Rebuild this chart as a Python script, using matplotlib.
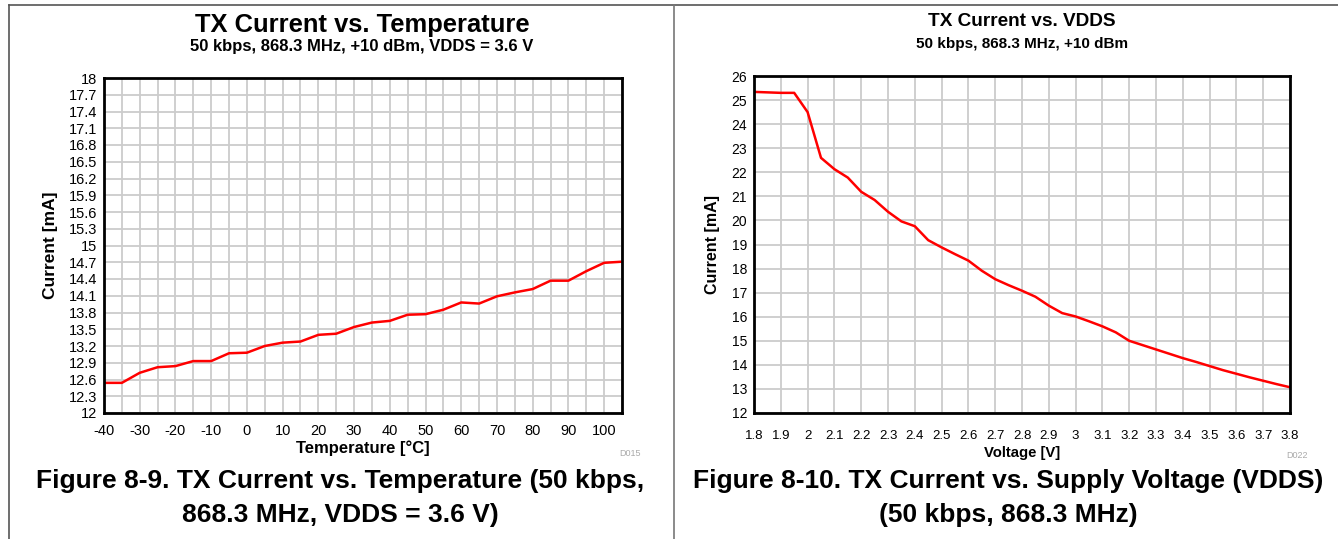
import matplotlib.pyplot as plt
import numpy as np
from matplotlib.lines import Line2D

plt.rcParams['font.family'] = ['Liberation Sans', 'DejaVu Sans']

# left chart: TX current vs temperature
temp_c = [-40, -35, -30, -25, -20, -15, -10, -5, 0, 5, 10, 15, 20, 25, 30, 35,
          40, 45, 50, 55, 60, 65, 70, 75, 80, 85, 90, 95, 100, 105]
current_temp = [12.54, 12.54, 12.72, 12.82, 12.84, 12.93, 12.93, 13.07, 13.08, 13.20,
                13.26, 13.28, 13.40, 13.42, 13.54, 13.62, 13.65, 13.76, 13.77, 13.85,
                13.98, 13.96, 14.09, 14.16, 14.22, 14.37, 14.37, 14.54, 14.69, 14.71]

# right chart: TX current vs VDDS
vdds = [1.8, 1.9, 1.95, 2.0, 2.05, 2.1, 2.15, 2.2, 2.25, 2.3, 2.35, 2.4, 2.45, 2.5,
        2.55, 2.6, 2.65, 2.7, 2.75, 2.8, 2.85, 2.9, 2.95, 3.0, 3.05, 3.1, 3.15, 3.2,
        3.25, 3.3, 3.35, 3.4, 3.45, 3.5, 3.55, 3.6, 3.65, 3.7, 3.75, 3.8]
current_vdds = [25.34, 25.30, 25.30, 24.50, 22.60, 22.13, 21.78, 21.19, 20.85, 20.36,
                19.96, 19.76, 19.18, 18.88, 18.60, 18.33, 17.91, 17.56, 17.31, 17.08,
                16.83, 16.46, 16.15, 16.01, 15.81, 15.60, 15.35, 15.00, 14.82, 14.64,
                14.46, 14.28, 14.12, 13.95, 13.78, 13.63, 13.48, 13.34, 13.20, 13.07]

temp_ticks = list(range(-40, 101, 10))
temp_grid = list(range(-40, 106, 5))
temp_yticks = [12, 12.3, 12.6, 12.9, 13.2, 13.5, 13.8, 14.1, 14.4, 14.7, 15,
               15.3, 15.6, 15.9, 16.2, 16.5, 16.8, 17.1, 17.4, 17.7, 18]
vdds_ticks = [1.8, 1.9, 2, 2.1, 2.2, 2.3, 2.4, 2.5, 2.6, 2.7, 2.8, 2.9, 3, 3.1,
              3.2, 3.3, 3.4, 3.5, 3.6, 3.7, 3.8]
vdds_yticks = list(range(12, 27))

W, H = 1338, 539
fig = plt.figure(figsize=(W / 100, H / 100), dpi=100)


def px_axes(x0, y0, x1, y1):
    return fig.add_axes([x0 / W, 1 - y1 / H, (x1 - x0) / W, (y1 - y0) / H])


def ftext(x, y, s, **kw):
    fig.text(x / W, 1 - y / H, s, ha='center', va='center', **kw)


def fmt(v):
    return ('%g' % v)


def style(ax):
    ax.set_axisbelow(True)
    for s in ax.spines.values():
        s.set_linewidth(2)
    ax.tick_params(length=0, pad=5, labelsize=10.5)


# panel frame
fig.add_artist(Line2D([9 / W, 1], [1 - 5 / H, 1 - 5 / H], color='#555555', lw=1.2))
fig.add_artist(Line2D([9 / W, 9 / W], [0, 1 - 5 / H], color='#555555', lw=1.2))
fig.add_artist(Line2D([674 / W, 674 / W], [0, 1 - 5 / H], color='#777777', lw=1.2))

# left chart
ax1 = px_axes(104, 78, 622, 413)
style(ax1)
for x in temp_grid:
    ax1.axvline(x, color='#cccccc', lw=1.3, zorder=0)
for y in temp_yticks:
    ax1.axhline(y, color='#cccccc', lw=1.3, zorder=0)
ax1.plot(temp_c, current_temp, color='#ff0000', lw=1.8)
ax1.set_xlim(-40, 105)
ax1.set_ylim(12, 18)
ax1.set_xticks(temp_ticks)
ax1.set_xticklabels([fmt(t) for t in temp_ticks])
ax1.set_yticks(temp_yticks)
ax1.set_yticklabels([fmt(t) for t in temp_yticks])
ax1.tick_params(axis='x', pad=8)
ax1.set_xlabel('Temperature [°C]', fontsize=12, fontweight='bold', labelpad=2)
ax1.set_ylabel('Current [mA]', fontsize=12.5, fontweight='bold', labelpad=8)

ftext(362, 25, 'TX Current vs. Temperature', fontsize=18.4, fontweight='bold')
ftext(362, 47, '50 kbps, 868.3 MHz, +10 dBm, VDDS = 3.6 V', fontsize=12, fontweight='bold')
ftext(630, 453, 'D015', fontsize=6.5, color='#aaaaaa')
ftext(340, 481, 'Figure 8-9. TX Current vs. Temperature (50 kbps,', fontsize=19, fontweight='bold')
ftext(340, 515, '868.3 MHz, VDDS = 3.6 V)', fontsize=19, fontweight='bold')

# right chart
ax2 = px_axes(754, 76, 1290, 413)
style(ax2)
for x in vdds_ticks:
    ax2.axvline(x, color='#cccccc', lw=1.3, zorder=0)
for y in vdds_yticks:
    ax2.axhline(y, color='#cccccc', lw=1.3, zorder=0)
ax2.plot(vdds, current_vdds, color='#ff0000', lw=1.8)
ax2.set_xlim(1.8, 3.8)
ax2.set_ylim(12, 26)
ax2.set_xticks(vdds_ticks)
ax2.set_xticklabels([fmt(t) for t in vdds_ticks])
ax2.set_yticks(vdds_yticks)
ax2.set_yticklabels([fmt(t) for t in vdds_yticks])
ax2.tick_params(axis='y', labelsize=10)
ax2.tick_params(axis='x', labelsize=9.5, pad=12)
ax2.set_xlabel('Voltage [V]', fontsize=10.7, fontweight='bold', labelpad=3)
ax2.set_ylabel('Current [mA]', fontsize=11.5, fontweight='bold', labelpad=8)

ftext(1022, 22, 'TX Current vs. VDDS', fontsize=13.7, fontweight='bold')
ftext(1022, 44, '50 kbps, 868.3 MHz, +10 dBm', fontsize=11, fontweight='bold')
ftext(1297, 455, 'D022', fontsize=6.5, color='#aaaaaa')
ftext(1008, 481, 'Figure 8-10. TX Current vs. Supply Voltage (VDDS)', fontsize=19, fontweight='bold')
ftext(1008, 515, '(50 kbps, 868.3 MHz)', fontsize=19, fontweight='bold')

fig.savefig('out.png', dpi=100)
